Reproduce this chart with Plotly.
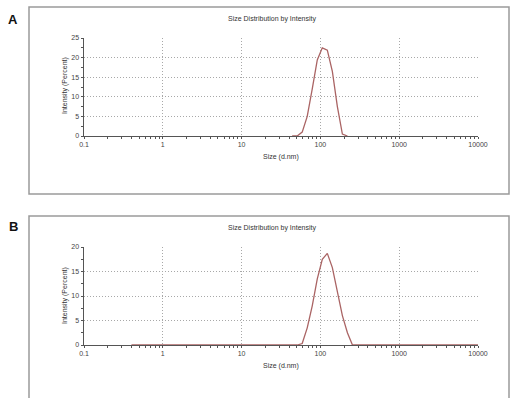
import plotly.graph_objects as go

# ---- data ----
sizes_a = [43.82, 50.75, 58.77, 68.06, 78.82, 91.28, 105.7, 122.4, 141.8, 164.2, 190.1, 220.2]
intensity_a = [0, 0, 1.0, 5.0, 12.0, 19.4, 22.5, 21.9, 16.5, 7.5, 0.5, 0]

sizes_b = [0.4, 1, 10, 43.82, 50.75, 58.77, 68.06, 78.82, 91.28, 105.7, 122.4, 141.8, 164.2, 190.1, 220.2, 255.0, 295.3, 1000, 10000]
intensity_b = [0, 0, 0, 0, 0, 0.3, 3.5, 8.0, 13.5, 17.5, 18.7, 15.8, 11.0, 6.0, 2.5, 0, 0, 0, 0]

x_tickvals = [0.1, 1, 10, 100, 1000, 10000]
x_ticktext = ["0.1", "1", "10", "100", "1000", "10000"]
x_minorvals = [m * d for d in [0.1, 1, 10, 100, 1000] for m in range(2, 10)]
y_ticks_a = [0, 5, 10, 15, 20, 25]
y_ticks_b = [0, 5, 10, 15, 20]

title_text = "Size Distribution by Intensity"
x_title = "Size (d.nm)"
y_title = "Intensity (Percent)"

W, H = 510, 398
FONT = "Liberation Sans, Arial, sans-serif"
LINE_COLOR = "#aa6464"
AXIS_COLOR = "#555555"
GRID_COLOR = "#a8a8a8"
GRID_DASH = "1px,2px"

def px_x(x):
    return x / W

def px_y(y):
    return 1 - y / H

fig = go.Figure()
fig.add_trace(go.Scatter(x=sizes_a, y=intensity_a, mode="lines",
                         line=dict(color=LINE_COLOR, width=1.3),
                         xaxis="x", yaxis="y", showlegend=False))
fig.add_trace(go.Scatter(x=sizes_b, y=intensity_b, mode="lines",
                         line=dict(color=LINE_COLOR, width=1.3),
                         xaxis="x2", yaxis="y2", showlegend=False))

x_dom = [px_x(84), px_x(478)]

def xaxis_def(anchor):
    return dict(
        type="log", range=[-1, 4], domain=x_dom, anchor=anchor,
        tickmode="array", tickvals=x_tickvals, ticktext=x_ticktext,
        tickfont=dict(size=7, color="#444", family=FONT),
        showline=True, linecolor=AXIS_COLOR, linewidth=1,
        showgrid=True, gridcolor=GRID_COLOR, griddash=GRID_DASH, gridwidth=1,
        ticks="outside", ticklen=2, tickcolor=AXIS_COLOR,
        minor=dict(tickmode="array", tickvals=x_minorvals, ticks="outside",
                   ticklen=2, tickcolor=AXIS_COLOR, showgrid=False),
        zeroline=False, fixedrange=True, automargin=False,
    )

def yaxis_def(anchor, dom, top, tickvals):
    return dict(
        range=[0, top], domain=dom, anchor=anchor,
        tickmode="array", tickvals=tickvals,
        tickfont=dict(size=7, color="#444", family=FONT),
        showline=True, linecolor=AXIS_COLOR, linewidth=1.5,
        showgrid=True, gridcolor=GRID_COLOR, griddash=GRID_DASH, gridwidth=1,
        ticks="outside", ticklen=2, tickcolor=AXIS_COLOR,
        minor=dict(dtick=2.5, ticks="outside", ticklen=2, tickcolor=AXIS_COLOR, showgrid=False),
        zeroline=False, fixedrange=True, automargin=False,
    )

layout = dict(
    width=W, height=H, autosize=False,
    margin=dict(l=0, r=0, t=0, b=0, pad=0, autoexpand=False),
    paper_bgcolor="white", plot_bgcolor="white",
    xaxis=xaxis_def("y"),
    yaxis=yaxis_def("x", [px_y(136), px_y(38)], 25, y_ticks_a),
    xaxis2=xaxis_def("y2"),
    yaxis2=yaxis_def("x2", [px_y(345), px_y(247)], 20, y_ticks_b),
    font=dict(family=FONT, color="#333"),
    showlegend=False,
)
fig.update_layout(**layout)

# outer frames
fig.add_shape(type="rect", xref="paper", yref="paper",
              x0=px_x(29), x1=px_x(509), y0=px_y(194), y1=px_y(7),
              line=dict(color="#9a9a9a", width=1.5), layer="below")
fig.add_shape(type="rect", xref="paper", yref="paper",
              x0=px_x(29), x1=px_x(509), y0=-0.05, y1=px_y(216),
              line=dict(color="#9a9a9a", width=1.5), layer="below")

def note(text, x, y, size=7, color="#333", angle=0):
    return dict(text=text, x=px_x(x), y=px_y(y), xref="paper", yref="paper",
                xanchor="center", yanchor="middle", showarrow=False, textangle=angle,
                font=dict(size=size, color=color, family=FONT))

ann = []
for label, ly in [("A", 19), ("B", 226)]:
    ann.append(note("<b>%s</b>" % label, 13, ly, size=13, color="#111"))
for ty, xty, yty in [(19, 157, 86), (228, 366, 296)]:
    ann.append(note(title_text, 272, ty))
    ann.append(note(x_title, 281, xty))
    ann.append(note(y_title, 65, yty, angle=-90))
fig.update_layout(annotations=ann)

fig.write_html("out.html",
               config={"displayModeBar": False, "staticPlot": True},
               post_script="document.body.style.margin='0';document.body.style.overflow='hidden';")
